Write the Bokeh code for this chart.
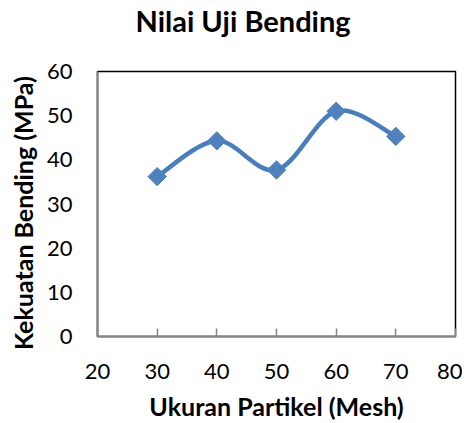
from bokeh.plotting import figure
from bokeh.models import Range1d, FixedTicker, Title
from bokeh.embed import file_html
from bokeh.resources import INLINE
import math

# Data
mesh = [30, 40, 50, 60, 70]
kekuatan = [36.2, 44.3, 37.7, 51.0, 45.3]
x_ticks = [20, 30, 40, 50, 60, 70, 80]
y_ticks = [0, 10, 20, 30, 40, 50, 60]
title_text = "Nilai Uji Bending"
x_label = "Ukuran Partikel (Mesh)"
y_label = "Kekuatan Bending (MPa)"

BLUE_LINE = "#4A7EBB"
BLUE_MARK = "#4F81BD"
FONT = "Lato"

p = figure(width=462, height=423, output_backend="svg", toolbar_location=None,
           x_range=Range1d(20, 80), y_range=Range1d(0, 60),
           min_border_left=97, min_border_right=7, min_border_top=70, min_border_bottom=87)

# spacer (closest to frame) then the real title above it
p.add_layout(Title(text=" ", text_font=FONT, text_font_size="26px", standoff=0), "above")
p.add_layout(Title(text=title_text, align="left", offset=38, text_font=FONT,
                   text_font_size="29px", text_font_style="bold", text_color="black",
                   standoff=0), "above")

p.background_fill_color = "white"
p.border_fill_color = "white"
p.outline_line_color = "black"
p.outline_line_width = 1.5
p.xgrid.visible = False
p.ygrid.visible = False

# Smoothed line (Excel-like Catmull-Rom Bezier through the points)
n = len(mesh)
x0s, y0s, x1s, y1s, cx0s, cy0s, cx1s, cy1s = [], [], [], [], [], [], [], []
for i in range(n - 1):
    pa = (mesh[max(i - 1, 0)], kekuatan[max(i - 1, 0)])
    pb = (mesh[i], kekuatan[i])
    pc = (mesh[i + 1], kekuatan[i + 1])
    pd = (mesh[min(i + 2, n - 1)], kekuatan[min(i + 2, n - 1)])
    x0s.append(pb[0]); y0s.append(pb[1])
    x1s.append(pc[0]); y1s.append(pc[1])
    cx0s.append(pb[0] + (pc[0] - pa[0]) / 6); cy0s.append(pb[1] + (pc[1] - pa[1]) / 6)
    cx1s.append(pc[0] - (pd[0] - pb[0]) / 6); cy1s.append(pc[1] - (pd[1] - pb[1]) / 6)

p.bezier(x0=x0s, y0=y0s, x1=x1s, y1=y1s, cx0=cx0s, cy0=cy0s, cx1=cx1s, cy1=cy1s,
         line_color=BLUE_LINE, line_width=4.5)
p.scatter(mesh, kekuatan, marker="square", size=13, angle=math.pi / 4,
          fill_color=BLUE_MARK, line_color=BLUE_MARK)

for ax in (p.xaxis[0], p.yaxis[0]):
    ax.axis_line_color = "#868686"
    ax.axis_line_width = 2
    ax.major_label_text_font = FONT
    ax.major_label_text_font_size = "22px"
    ax.major_label_text_color = "black"
    ax.axis_label_text_font = FONT
    ax.axis_label_text_font_size = "25px"
    ax.axis_label_text_font_style = "bold"
    ax.axis_label_text_color = "black"
    ax.minor_tick_line_color = None

p.xaxis.ticker = FixedTicker(ticks=x_ticks)
p.yaxis.ticker = FixedTicker(ticks=y_ticks)
p.xaxis.axis_label = x_label
p.yaxis.axis_label = y_label + "\u00a0\u00a0\u00a0"
p.xaxis.major_tick_in = 8
p.xaxis.major_tick_out = 0
p.xaxis.major_tick_line_color = "#868686"
p.xaxis.major_tick_line_width = 1.5
p.yaxis.major_tick_in = 0
p.yaxis.major_tick_out = 0
p.yaxis.major_tick_line_color = None
p.xaxis.major_label_standoff = 27
p.yaxis.major_label_standoff = 25
p.xaxis.axis_label_standoff = 9
p.yaxis.axis_label_standoff = 6

open("out.html", "w").write(file_html(p, INLINE))
